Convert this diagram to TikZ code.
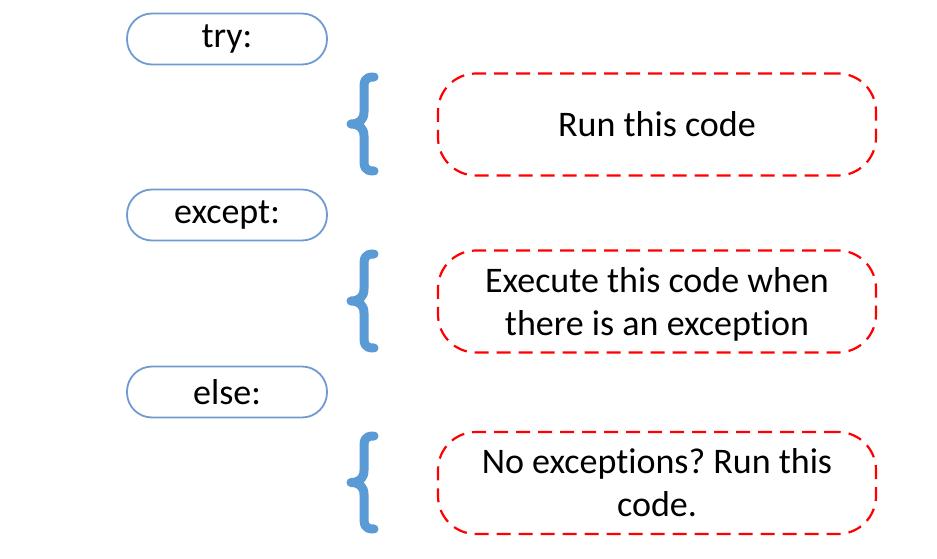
\documentclass[tikz,border=0pt]{standalone}
\usepackage{fontspec}
\setmainfont[Ligatures=NoCommon]{Carlito}
\definecolor{pillblue}{HTML}{6F9BD1}
\definecolor{bracecol}{HTML}{5B9BD5}
\definecolor{dashred}{HTML}{FF0000}
\frenchspacing
\begin{document}
\begin{tikzpicture}[x=1pt,y=-1pt,
  keyword/.style={draw=pillblue, line width=1.8pt, rounded corners=25pt,
    minimum width=200pt, minimum height=51pt, inner sep=0pt,
    font=\fontsize{36}{43}\selectfont},
  action/.style={draw=dashred, line width=2.2pt, dash pattern=on 14pt off 8pt,
    rounded corners=38pt, minimum width=438pt, minimum height=102pt,
    inner sep=0pt, align=center, font=\fontsize{36}{43}\selectfont},
  brace/.style={draw=bracecol, line width=9pt, line cap=round, line join=round}]
\useasboundingbox (0,0) rectangle (937,559);

% keywords
\node[keyword] (try)    at (227,39)  {try:};
\node[keyword] (except) at (227,215) {except:};
\node[keyword] (else)   at (227,392) {else:};

% blocks of code
\node[action] (run)  at (657,124.5) {Run this code};
\node[action] (exc)  at (657,301.5) {};
\node[align=center, font=\fontsize{36}{43}\selectfont, inner sep=0pt]
  at ([yshift=-3pt]exc.center) {Execute this code when\\there is an exception};
\node[action] (noex) at (657,483)   {No exceptions? Run this\\code.};

% curly braces in front of each block
\foreach \t/\b in {77/171, 254/348, 436/529}{
  \pgfmathsetmacro{\m}{(\t+\b)/2}
  \draw[brace] (374,\t) .. controls (364,\t) and (364,\t+4) .. (364,\t+14)
    -- (364,\m-12) .. controls (364,\m-4) and (359,\m) .. (351,\m)
    .. controls (359,\m) and (364,\m+4) .. (364,\m+12)
    -- (364,\b-14) .. controls (364,\b-4) and (364,\b) .. (374,\b);
}
\end{tikzpicture}
\end{document}
